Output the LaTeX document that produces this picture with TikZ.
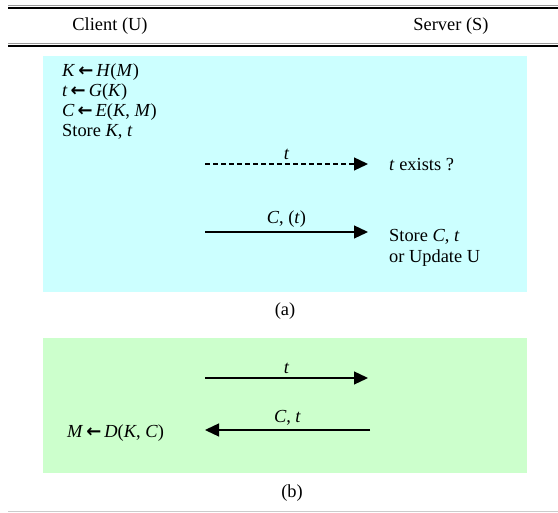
\documentclass[tikz,border=0pt]{standalone}
\usepackage{fontspec}
\setmainfont{Liberation Serif}
\newfontfamily\arrowfont{DejaVu Sans}
\usetikzlibrary{arrows.meta, positioning}
\definecolor{boxcyan}{HTML}{CCFFFF}
\definecolor{boxgreen}{HTML}{CCFFCC}
\newcommand{\assignto}{\hspace{3pt}{\arrowfont\bfseries\fontsize{18}{18}\selectfont ←}\hspace{3pt}}

\begin{document}
\begin{tikzpicture}[
    x=1pt, y=-1pt,
    every node/.style={font=\fontsize{18.4}{21}\selectfont, inner sep=1pt},
    txt/.style={anchor=west},
    msg/.style={-{Triangle[length=14pt, width=13pt]}, line width=1.3pt},
    rule/.style={line width=1.2pt},
]
\useasboundingbox (0,0) rectangle (558,513);

% header rules
\draw[rule, gray!80, line width=0.9pt] (8,5.5) -- (558,5.5);
\draw[rule] (8,8) -- (558,8);
\draw[rule, gray!80, line width=0.9pt] (8,43.5) -- (558,43.5);
\draw[rule] (8,46) -- (558,46);
\draw[gray!40, line width=1pt] (8,511.5) -- (558,511.5);

\node (client) at (110,26) {Client (U)};
\node (server) at (451,26) {Server (S)};

% (a)
\fill[boxcyan] (43,56) rectangle (527,292);
\node[txt] (hk) at (61,72) {\textit{K}\assignto\textit{H}(\textit{M})};
\node[txt] (gt) at (61,92) {\textit{t}\assignto\textit{G}(\textit{K})};
\node[txt] (ec) at (61,112) {\textit{C}\assignto\textit{E}(\textit{K}, \textit{M})};
\node[txt] (st) at (61,132) {Store \textit{K}, \textit{t}};

\coordinate (qs) at (205,164);
\coordinate (qe) at (368,164);
\draw[msg, dash pattern=on 5pt off 3pt] (qs) -- node[above=3pt] (tq) {\textit{t}} (qe);
\node[txt] (exists) at (388,165) {\textit{t} exists ?};

\coordinate (us) at (205,232);
\coordinate (ue) at (368,232);
\draw[msg] (us) -- node[above=3pt] (cu) {\textit{C}, (\textit{t})} (ue);
\node[txt] (store) at (388,237) {Store \textit{C}, \textit{t}};
\node[txt] (upd) at (388,258) {or Update U};

\node (capa) at (285,311) {(a)};

% (b)
\fill[boxgreen] (43,338) rectangle (527,473);
\coordinate (rs) at (205,378);
\coordinate (re) at (368,378);
\draw[msg] (rs) -- node[above=3pt] (tr) {\textit{t}} (re);

\coordinate (ds) at (370,430);
\coordinate (de) at (205,430);
\draw[msg] (ds) -- node[above=3pt] (cd) {\textit{C}, \textit{t}} (de);
\node[txt] (dec) at (66,433) {\textit{M}\assignto\textit{D}(\textit{K}, \textit{C})};

\node (capb) at (292,493) {(b)};
\end{tikzpicture}
\end{document}
